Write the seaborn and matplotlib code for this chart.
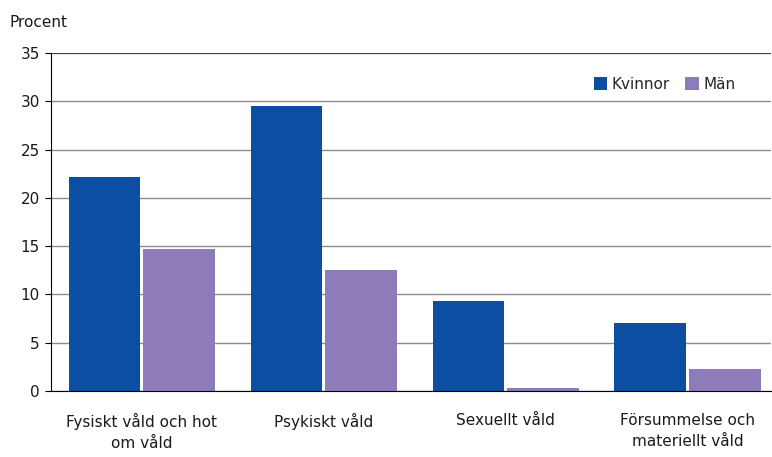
import pandas as pd
import matplotlib.pyplot as plt
import seaborn as sns

# Data
categories = ["Fysiskt våld och hot\nom våld", "Psykiskt våld", "Sexuellt våld",
              "Försummelse och\nmateriellt våld"]
kvinnor = [22.2, 29.5, 9.3, 7.0]
man = [14.7, 12.5, 0.3, 2.3]
groups = ["Kvinnor", "Män"]

data = pd.DataFrame({
    "kategori": categories * 2,
    "grupp": [groups[0]] * 4 + [groups[1]] * 4,
    "procent": kvinnor + man,
})

sns.set_style("white")
plt.rcParams["font.family"] = ["DejaVu Sans"]

fig = plt.figure(figsize=(7.72, 4.57), dpi=100)
ax = fig.add_axes([0.066, 0.1444, 0.933, 0.7396])

sns.barplot(data=data, x="kategori", y="procent", hue="grupp",
            palette=["#0B4EA2", "#8E7CBA"], width=0.82, gap=0.04,
            saturation=1, linewidth=0, ax=ax, zorder=3)

ax.set_ylim(0, 35)
ax.set_yticks(range(0, 36, 5))
ax.set_xlim(-0.5, 3.46)
ax.grid(axis="y", color="#8c8c8c", linewidth=1, zorder=0)
ax.set_xlabel("")
ax.set_ylabel("")
for side in ["top", "right"]:
    ax.spines[side].set_visible(False)
ax.spines["left"].set_color("black")
ax.spines["bottom"].set_color("black")
ax.spines["left"].set_zorder(4)
ax.spines["bottom"].set_zorder(4)
ax.axhline(35, color="#333333", linewidth=1.2, zorder=1)
ax.tick_params(axis="y", left=True, length=4, color="black", labelsize=11,
               labelcolor="#1a1a1a", pad=4)
ax.tick_params(axis="x", bottom=False, labelsize=11, labelcolor="#1a1a1a", pad=12)
for lbl in ax.get_xticklabels():
    lbl.set_linespacing(1.55)

fig.text(0.012, 0.95, "Procent", fontsize=11, color="#1a1a1a", ha="left", va="center")

ax.legend(loc="upper right", bbox_to_anchor=(0.97, 0.97), ncol=2, frameon=False,
          fontsize=11, handlelength=0.9, handleheight=0.9, handletextpad=0.3,
          columnspacing=1.0)

fig.savefig("out.png", dpi=100)
